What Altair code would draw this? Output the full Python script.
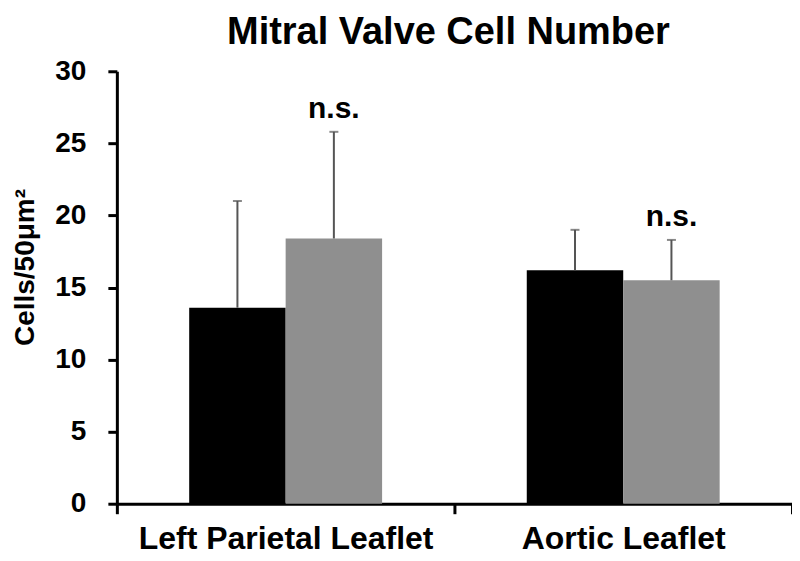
import altair as alt
import pandas as pd

categories = ["Left Parietal Leaflet", "Left Parietal Leaflet", "Aortic Leaflet", "Aortic Leaflet"]
groups = ["Group 1", "Group 2", "Group 1", "Group 2"]
means = [13.6, 18.4, 16.2, 15.5]
errors = [7.4, 7.4, 2.8, 2.8]
annotations = ["", "n.s.", "", "n.s."]

df = pd.DataFrame({
    "category": categories,
    "group": groups,
    "mean": means,
    "err": errors,
    "note": annotations,
})
df["upper"] = df["mean"] + df["err"]

FONT = "Liberation Sans"
cat_order = ["Left Parietal Leaflet", "Aortic Leaflet"]
grp_order = ["Group 1", "Group 2"]

x_enc = alt.X("category:N", sort=cat_order,
              scale=alt.Scale(paddingInner=0, paddingOuter=0),
              axis=alt.Axis(title=None, labelAngle=0, tickBand="extent", labelLimit=0,
                            labelFont=FONT, labelFontSize=32, labelFontWeight="bold",
                            labelColor="black", labelPadding=10,
                            domainColor="black", domainWidth=3,
                            tickColor="black", tickWidth=3, tickSize=10))
xo_enc = alt.XOffset("group:N", sort=grp_order,
                     scale=alt.Scale(paddingOuter=0.75, paddingInner=0))

y_scale = alt.Scale(domain=[0, 30], nice=False, zero=True)

bars = alt.Chart(df).mark_bar().encode(
    x=x_enc,
    xOffset=xo_enc,
    y=alt.Y("mean:Q", scale=y_scale,
            axis=alt.Axis(title="Cells/50μm²", values=[0, 5, 10, 15, 20, 25, 30],
                          grid=False, labelFont=FONT, labelFontSize=28,
                          labelFontWeight="bold", labelColor="black", labelPadding=22,
                          titleFont=FONT, titleFontSize=28, titleFontWeight="bold",
                          titleColor="black", titlePadding=15, titleY=196, titleLimit=0,
                          domainColor="black", domainWidth=3,
                          tickColor="black", tickWidth=3, tickSize=9)),
    color=alt.Color("group:N", sort=grp_order,
                    scale=alt.Scale(domain=grp_order, range=["#000000", "#8f8f8f"]),
                    legend=None),
)

err_rule = alt.Chart(df).mark_rule(color="#555555", strokeWidth=2).encode(
    x=alt.X("category:N", sort=cat_order),
    xOffset=alt.XOffset("group:N", sort=grp_order),
    y="mean:Q",
    y2="upper:Q",
)

err_cap = alt.Chart(df).mark_tick(color="#555555", thickness=2, size=9).encode(
    x=alt.X("category:N", sort=cat_order),
    xOffset=alt.XOffset("group:N", sort=grp_order),
    y="upper:Q",
)

notes = alt.Chart(df).mark_text(font=FONT, fontSize=30, fontWeight="bold",
                                color="black", baseline="bottom", dy=-8).encode(
    x=alt.X("category:N", sort=cat_order),
    xOffset=alt.XOffset("group:N", sort=grp_order),
    y="upper:Q",
    text="note:N",
)

chart = alt.layer(bars, err_rule, err_cap, notes).properties(
    width=676,
    height=433,
    title=alt.TitleParams("Mitral Valve Cell Number", font=FONT, fontSize=38,
                          fontWeight="bold", color="black", anchor="middle",
                          offset=5, dx=-6),
    autosize=alt.AutoSizeParams(type="none"),
    padding={"left": 109, "top": 63, "right": 0, "bottom": 56},
).configure_view(stroke=None)

chart.save("out.html", embed_options={"renderer": "svg", "actions": False})
